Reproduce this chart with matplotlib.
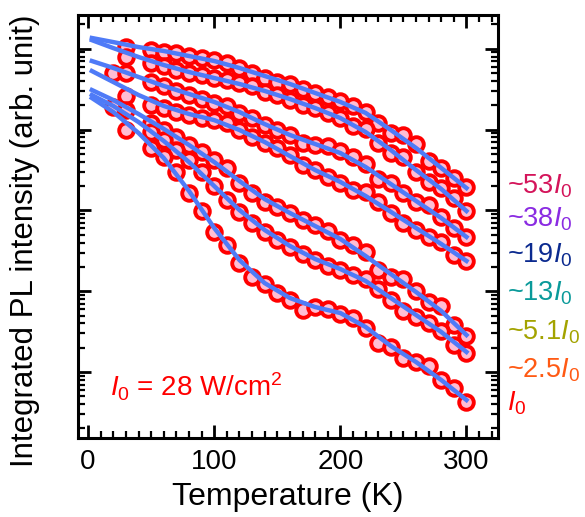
import numpy as np
import matplotlib
matplotlib.use("Agg")
import matplotlib.pyplot as plt
from matplotlib.ticker import MultipleLocator, LogLocator, NullFormatter

plt.rcParams['font.family'] = ['Liberation Sans', 'DejaVu Sans']
plt.rcParams['mathtext.fontset'] = 'custom'
plt.rcParams['mathtext.rm'] = 'Liberation Sans'
plt.rcParams['mathtext.it'] = 'Liberation Sans:italic'

nan = np.nan

# temperatures of the measured points (K)
temps = [20, 30, 50, 60, 70, 80, 90, 100, 110, 120, 130, 140, 150, 160,
         170, 180, 190, 200, 210, 220, 230, 240, 250, 260, 270, 280, 290, 300]

# integrated PL intensity (arb. unit), one list per excitation power
p53 = [nan, 10500, 9660, 9130, 8870, 8140, 7690, 7260, 6670, 5790, 5020, 4350, 3880, 3670,
       3180, 2840, 2530, 2260, 1960, 1650, 1210, 908, 858, 663, 409, 335, 252, 195]
p38 = [nan, 7920, 6670, 6130, 5470, 5020, 4740, 4350, 4110, 3770, 3470, 2920, 2680, 2320,
       2020, 1850, 1610, 1390, 1110, 1020, 683, 513, 458, 299, 225, 189, 142, 98.3]
p19 = [5020, 5020, 3880, 3470, 3010, 2680, 2390, 2130, 1960, 1610, 1390, 1140, 989, 858,
       683, 645, 627, 544, 458, 375, 245, 218, 164, 127, 117, 82.9, 60.6, 46.9]
p13 = [nan, 2610, 2020, 1850, 1650, 1520, 1390, 1310, 1210, 989, 810, 683, 592, 485,
       365, 316, 259, 218, 179, 169, 127, 92.9, 69.8, 57.2, 46.9, 40.6, 28.1, 23.7]
p5 = [1900, 1750, 1210, 989, 810, 645, 528, 421, 335, 218, 164, 127, 110, 92.9,
      76.1, 66.0, 55.6, 43.0, 37.3, 30.6, 18.3, 15.0, 14.2, 10.1, 7.35, 6.56, 3.82, 2.79]
p2 = [nan, nan, 934, 744, 559, 421, 299, 200, 135, 96.1, 69.8, 54.0, 43.0, 35.3,
      28.9, 24.3, 20.5, 18.3, 15.9, 14.2, 10.7, 7.78, 5.69, 4.79, 4.04, 3.22, 2.16, 1.72]
p1 = [nan, 989, 592, 458, 299, 164, 98.3, 54.0, 37.3, 22.3, 15.0, 12.3, 9.50, 7.78,
      5.85, 6.37, 6.02, 5.22, 4.66, 3.51, 2.29, 2.04, 1.49, 1.33, 1.19, 0.796, 0.634, 0.425]

# fitted curves
fit_t = [3, 20, 40, 60, 80, 100, 120, 140, 160, 180, 200, 220, 240, 260, 280, 300]
fit53 = [13600, 12100, 10500, 9390, 8140, 7060, 5790, 4610, 3670, 2840, 2200, 1610, 989, 592, 335, 189]
fit38 = [12800, 10200, 7920, 6300, 5160, 4350, 3670, 3010, 2390, 1850, 1390, 934, 559, 316, 184, 98.3]
fit19 = [7060, 5790, 4480, 3470, 2760, 2200, 1650, 1170, 858, 663, 513, 345, 212, 131, 80.5, 46.9]
fit13 = [5310, 3880, 2680, 1960, 1560, 1310, 989, 702, 471, 316, 225, 151, 96.1, 60.6, 38.4, 23.7]
fit5 = [3090, 2320, 1560, 1020, 645, 397, 231, 138, 92.9, 64.1, 44.3, 27.3, 16.3, 9.78, 5.69, 2.87]
fit2 = [2680, 1960, 1240, 723, 397, 200, 101, 57.2, 36.3, 25.0, 18.8, 13.4, 8.24, 5.08, 3.13, 1.77]
fit1 = [2460, 1650, 908, 445, 174, 60.6, 24.3, 12.6, 8.24, 6.37, 5.37, 3.61, 2.10, 1.33, 0.796, 0.450]

labels = [r'~53$I_0$', r'~38$I_0$', r'~19$I_0$', r'~13$I_0$', r'~5.1$I_0$', r'~2.5$I_0$', r'$I_0$']
label_colors = ['#D4145A', '#8A2BE2', '#0B2A8F', '#0A9A9A', '#A3A300', '#FF5A14', '#FF0000']
label_y = [0.577, 0.499, 0.416, 0.326, 0.232, 0.144, 0.066]

series = [p53, p38, p19, p13, p5, p2, p1]
fits = [fit53, fit38, fit19, fit13, fit5, fit2, fit1]

fig = plt.figure(figsize=(5.85, 5.17), dpi=100)
ax = fig.add_axes([0.1333, 0.1528, 0.718, 0.8182])

for s in series:
    ax.plot(temps, s, 'o', ms=10.5, mfc='#FFBDD3', mec='#FF0000', mew=2.8, zorder=2)
for f in fits:
    ax.plot(fit_t, f, '-', color='#4F7BF7', lw=3.2, zorder=3, solid_joinstyle='round')

ax.set_yscale('log')
ax.set_xlim(-8, 325)
ax.set_ylim(0.1525, 26200)
ax.xaxis.set_major_locator(MultipleLocator(100))
ax.xaxis.set_minor_locator(MultipleLocator(10))
ax.yaxis.set_major_locator(LogLocator(base=10, numticks=20))
ax.yaxis.set_minor_locator(LogLocator(base=10, subs=np.arange(2, 10), numticks=20))
ax.yaxis.set_major_formatter(NullFormatter())
ax.yaxis.set_minor_formatter(NullFormatter())

for sp in ax.spines.values():
    sp.set_linewidth(2.2)
ax.tick_params(which='both', direction='in', top=True, right=True)
ax.tick_params(which='major', length=9.5, width=2.0, labelsize=20, pad=8)
ax.tick_params(which='minor', length=5, width=1.6)

ax.set_xlabel('Temperature (K)', fontsize=23, labelpad=5)
ax.set_ylabel('Integrated PL intensity (arb. unit)', fontsize=22.5)
ax.yaxis.set_label_coords(-0.09, 0.466)

for lab, col, yy in zip(labels, label_colors, label_y):
    ax.text(1.021, yy, lab, color=col, fontsize=19.5, transform=ax.transAxes,
            ha='left', va='baseline')

ax.text(0.076, 0.097, r'$I_0$ = 28 W/cm$^2$', color='#FF0000', fontsize=20,
        transform=ax.transAxes, ha='left', va='baseline')

fig.savefig('out.png', dpi=100)
